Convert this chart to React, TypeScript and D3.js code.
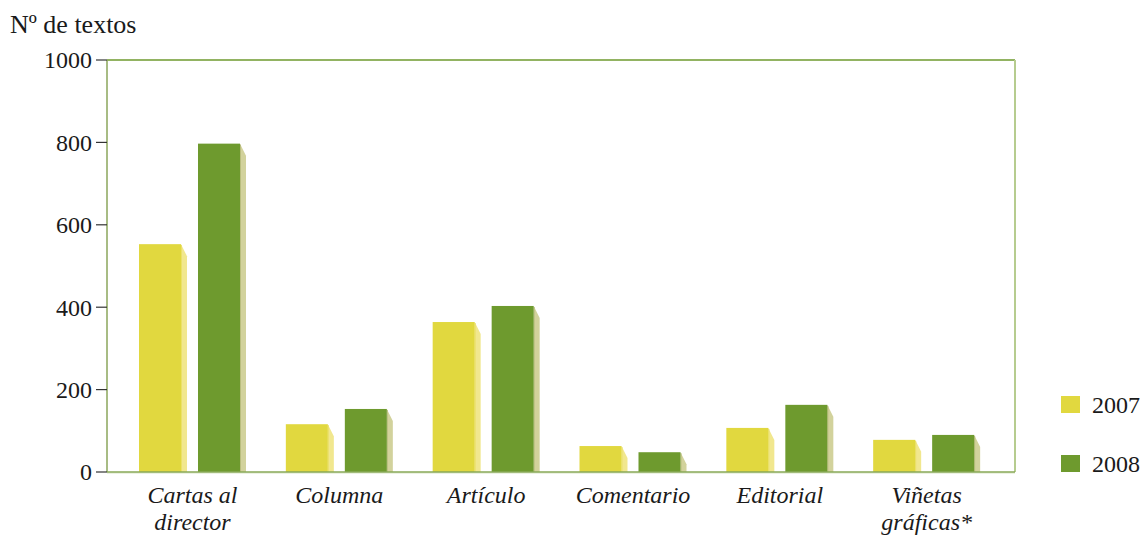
import React from "react";
import * as d3 from "d3";

const categories = ["Cartas al\ndirector", "Columna", "Artículo", "Comentario", "Editorial", "Viñetas\ngráficas*"];
const years = ["2007", "2008"];
const values2007 = [553, 116, 364, 63, 107, 78];
const values2008 = [797, 153, 403, 48, 163, 90];
const yTicks = [0, 200, 400, 600, 800, 1000];
const yTitle = "Nº de textos";

const W = 1143;
const H = 535;
const M = { left: 107, top: 60, right: 1015, bottom: 472 };
const FONT = "'Liberation Serif', 'DejaVu Serif', serif";

const colors: Record<string, string> = { "2007": "#e1d83f", "2008": "#6e9a2e" };
const sideColors: Record<string, string> = { "2007": "#f1e78e", "2008": "#d2d29c" };
const edgeColors: Record<string, string> = { "2007": "#ebe06a", "2008": "#b9bd7e" };

export default function App() {
  const y = d3.scaleLinear().domain([0, 1000]).range([M.bottom, M.top]);
  const x0 = d3.scaleBand<string>().domain(categories).range([118, 999]).paddingInner(0).paddingOuter(0);
  const x1 = d3.scaleBand<string>().domain(years).range([21, 122]).paddingInner(0.288).paddingOuter(0);
  const series: Record<string, number[]> = { "2007": values2007, "2008": values2008 };
  const bw = x1.bandwidth();
  const sideW = 6;
  const sideDrop = 12;

  return (
    <svg width={W} height={H} style={{ position: "absolute", left: 0, top: 0, background: "#fff", display: "block" }} fontFamily={FONT}>
      <text x={10} y={33} fontSize={26} fill="#1a1a1a">{yTitle}</text>

      {/* frame */}
      <line x1={M.left} x2={M.right} y1={M.top} y2={M.top} stroke="#6e9a2e" strokeWidth={1.5} />
      <line x1={M.right} x2={M.right} y1={M.top} y2={M.bottom} stroke="#b6cc8f" strokeWidth={2} />
      <line x1={M.left} x2={M.left} y1={M.top} y2={M.bottom} stroke="#8ba65b" strokeWidth={1.5} />

      {/* y ticks */}
      {yTicks.map((t) => (
        <g key={t}>
          <line x1={M.left - 11} x2={M.left} y1={y(t)} y2={y(t)} stroke="#333" strokeWidth={1.2} />
          <text x={M.left - 15} y={y(t)} dy="0.35em" textAnchor="end" fontSize={24} fill="#1a1a1a">{t}</text>
        </g>
      ))}

      {/* bars */}
      {categories.map((c, i) => (
        <g key={c} transform={`translate(${x0(c)},0)`}>
          {years.map((yr) => {
            const v = series[yr][i];
            const bx = x1(yr)!;
            const top = y(v);
            const base = y(0);
            const pts = [
              [bx + bw, top],
              [bx + bw + sideW, Math.min(top + sideDrop, base)],
              [bx + bw + sideW, base],
              [bx + bw, base],
            ].map((p) => p.join(",")).join(" ");
            return (
              <g key={yr}>
                <polygon points={pts} fill={sideColors[yr]} />
                <line x1={bx + bw + 0.5} x2={bx + bw + 0.5} y1={top + 1} y2={base} stroke={edgeColors[yr]} strokeWidth={1} />
                <rect x={bx} y={top} width={bw} height={base - top} fill={colors[yr]} />
              </g>
            );
          })}
          {c.split("\n").map((line, k) => (
            <text key={k} x={21 + 53.5} y={503 + k * 27} textAnchor="middle" fontSize={24} fontStyle="italic" fill="#1a1a1a">{line}</text>
          ))}
        </g>
      ))}

      {/* x axis */}
      <line x1={M.left} x2={M.right} y1={M.bottom + 1} y2={M.bottom + 1} stroke="#d9e6c6" strokeWidth={1} />
      <line x1={M.left} x2={M.right} y1={M.bottom} y2={M.bottom} stroke="#88a857" strokeWidth={1.5} />

      {/* legend */}
      {years.map((yr, k) => (
        <g key={yr} transform={`translate(1061,${396 + k * 59})`}>
          <rect x={0} y={0} width={19} height={17} fill={colors[yr]} />
          <text x={31} y={17} fontSize={24} fill="#1a1a1a">{yr}</text>
        </g>
      ))}
    </svg>
  );
}
